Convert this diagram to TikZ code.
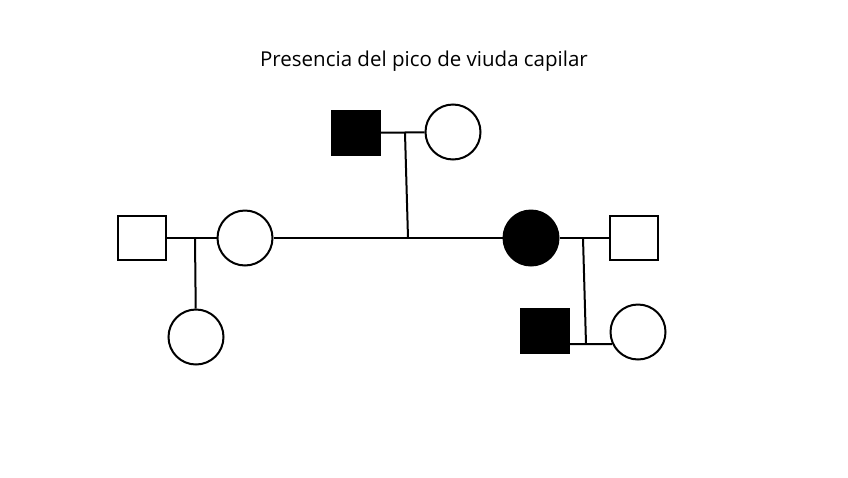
\documentclass[tikz,border=0pt]{standalone}
\usepackage{fontspec}
\setmainfont{Open Sans}
\usetikzlibrary{positioning}

\begin{document}
\begin{tikzpicture}[
  x=1pt, y=-1pt,
  every node/.style={inner sep=0pt},
  male/.style={rectangle, draw, line width=2pt, minimum width=48pt, minimum height=44pt},
  female/.style={circle, draw, line width=2pt, minimum size=55pt},
  hit/.style={fill=black},
  link/.style={line width=2pt},
]
  \useasboundingbox (0,0) rectangle (848,477);
  \node[font=\fontsize{20.5}{24}\selectfont] (title) at (424,61) {Presencia del pico de viuda capilar};

  \node[male,hit] (gf) at (356,133) {};
  \node[female] (gm) at (453,132) {};

  \node[male] (lf) at (142,238) {};
  \node[female] (lm) at (245,238) {};
  \node[female,hit] (rm) at (531,238) {};
  \node[male] (rf) at (634,238) {};

  \node[female] (lc) at (196,337) {};
  \node[male,hit] (rs) at (545,331) {};
  \node[female] (rd) at (638,332) {};

  \coordinate (gj) at (405,133);
  \coordinate (gk) at (408,238);
  \coordinate (lj) at (195,238);
  \coordinate (rj) at (583,238);
  \coordinate (rk) at (586,344);

  \draw[link] (gf) -- (gm);
  \draw[link] (gj) -- (gk);
  \draw[link] (lf) -- (lm);
  \draw[link] (lm) -- (rm);
  \draw[link] (rm) -- (rf);
  \draw[link] (lj) -- (lc);
  \draw[link] (rj) -- (rk);
  \draw[link] (rk -| rs.east) -- (rd.205);
\end{tikzpicture}
\end{document}
